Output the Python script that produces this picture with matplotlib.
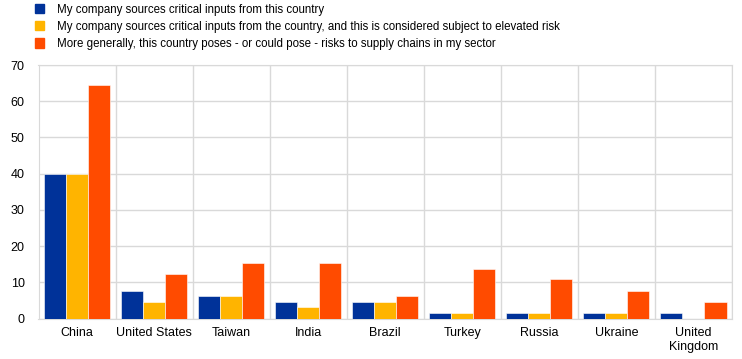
import numpy as np
import matplotlib
matplotlib.use("Agg")
import matplotlib.pyplot as plt
from matplotlib.patches import Rectangle

plt.rcParams['font.family'] = ['Liberation Sans', 'DejaVu Sans']

# data
countries = ['China', 'United States', 'Taiwan', 'India', 'Brazil',
             'Turkey', 'Russia', 'Ukraine', 'United\nKingdom']
sources = [40.0, 7.7, 6.2, 4.6, 4.6, 1.5, 1.5, 1.5, 1.5]
sources_risk = [40.0, 4.6, 6.2, 3.1, 4.6, 1.5, 1.5, 1.5, 0.0]
general_risk = [64.6, 12.3, 15.4, 15.4, 6.2, 13.8, 10.8, 7.7, 4.6]
labels = ['My company sources critical inputs from this country',
          'My company sources critical inputs from the country, and this is considered subject to elevated risk',
          'More generally, this country poses - or could pose - risks to supply chains in my sector']
colors = ['#003299', '#FFB400', '#FF4B00']
yticks = [0, 10, 20, 30, 40, 50, 60, 70]

fig = plt.figure(figsize=(7.42, 3.59), dpi=100)
ax = fig.add_axes([38.5/742, 1-318.5/359, (732-38.5)/742, (318.5-65)/359])

x = np.arange(len(countries))
w = 0.286
for i, (vals, c) in enumerate(zip([sources, sources_risk, general_risk], colors)):
    ax.bar(x + (i-1)*w, vals, width=w, color=c, edgecolor='#ffffff', linewidth=0.4,
           zorder=3, label=labels[i])

ax.set_xlim(-0.5, len(countries)-0.5)
ax.set_ylim(0, 70)
ax.set_yticks(yticks)
ax.set_xticks(x)
ax.set_xticklabels(countries, fontsize=9, linespacing=1.25)
ax.tick_params(axis='both', length=0, labelsize=9, colors='#000000')
ax.tick_params(axis='y', pad=10)
ax.tick_params(axis='x', pad=6)

# grid: horizontal at ticks, vertical between categories
for yv in yticks:
    ax.axhline(yv, color='#d9d9d9', linewidth=1, zorder=1)
for xv in np.arange(len(countries)+1) - 0.5:
    ax.axvline(xv, color='#d9d9d9', linewidth=1, zorder=1)
for s in ax.spines.values():
    s.set_color('#d9d9d9')

# legend at top
handles = [Rectangle((0, 0), 1, 1, color=c) for c in colors]
fig.legend(handles, labels, loc='upper left', bbox_to_anchor=(30/742, 1.003),
           frameon=False, fontsize=8.3, handlelength=0.85, handleheight=0.85,
           handletextpad=1.1, labelspacing=0.45, borderaxespad=0.0)

plt.savefig('out.png', dpi=100)
